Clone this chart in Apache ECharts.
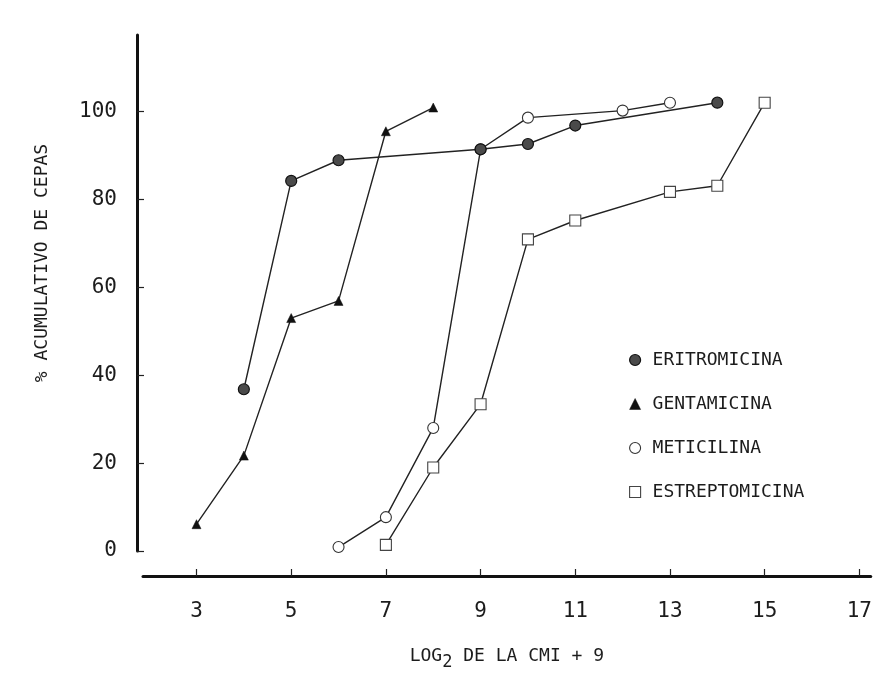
<!DOCTYPE html>
<html>
<head>
<meta charset="utf-8">
<script src="https://cdn.jsdelivr.net/npm/echarts@6/dist/echarts.min.js"></script>
<style>
  html, body { margin: 0; padding: 0; background: #fff; }
  #chart { width: 875px; height: 676px; }
</style>
</head>
<body>
<div id="chart"></div>
<script>
// tick labels
const xTicks = [3, 5, 7, 9, 11, 13, 15, 17];
const yTicks = [0, 20, 40, 60, 80, 100];

// series (x = log2 CMI + 9, y = % acumulativo)
const eritroX = [4, 5, 6, 9, 10, 11, 14];
const eritroY = [36.8, 84.2, 88.9, 91.4, 92.6, 96.8, 102.0];
const gentaX = [3, 4, 5, 6, 7, 8];
const gentaY = [6.1, 21.7, 53.0, 56.9, 95.5, 100.9];
const metiX = [6, 7, 8, 9, 10, 12, 13];
const metiY = [0.9, 7.7, 28.0, 91.4, 98.6, 100.2, 102.0];
const estrepX = [7, 8, 9, 10, 11, 13, 14, 15];
const estrepY = [1.4, 19.0, 33.4, 70.9, 75.2, 81.7, 83.1, 102.0];

const names = ['ERITROMICINA', 'GENTAMICINA', 'METICILINA', 'ESTREPTOMICINA'];

const zip = (xs, ys) => xs.map((x, i) => [x, ys[i]]);

const FONT = '"DejaVu Sans Mono", monospace';
const INK = '#1c1c1c';

const styles = {
  ERITROMICINA: { symbol: 'circle', size: 11, item: { color: '#4a4a4a', borderColor: '#111', borderWidth: 1.2 } },
  GENTAMICINA: { symbol: 'triangle', size: 9, item: { color: '#111', borderColor: '#111', borderWidth: 0.5 } },
  METICILINA: { symbol: 'circle', size: 11, item: { color: '#fff', borderColor: '#333', borderWidth: 1.1 } },
  ESTREPTOMICINA: { symbol: 'rect', size: 11, item: { color: '#fff', borderColor: '#444', borderWidth: 1.1 } },
};

const seriesData = {
  ERITROMICINA: zip(eritroX, eritroY),
  GENTAMICINA: zip(gentaX, gentaY),
  METICILINA: zip(metiX, metiY),
  ESTREPTOMICINA: zip(estrepX, estrepY),
};

const zOrder = { ERITROMICINA: 5, GENTAMICINA: 4, METICILINA: 3, ESTREPTOMICINA: 2 };

const chart = echarts.init(document.getElementById('chart'));

const option = {
  backgroundColor: '#fff',
  animation: false,
  grid: { left: 143, right: 0, top: 35, bottom: 121 },
  legend: {
    orient: 'vertical',
    left: 624,
    top: 346,
    itemGap: 26,
    itemWidth: 11,
    itemHeight: 11,
    textStyle: { fontFamily: FONT, fontSize: 18, color: INK, padding: [0, 0, 0, 7] },
    data: names.map(n => ({
      name: n,
      icon: styles[n].symbol,
      itemStyle: styles[n].item,
    })),
  },
  xAxis: {
    type: 'value',
    min: 1.87,
    max: 17.24,
    offset: 25,
    axisLine: { show: true, onZero: false, lineStyle: { color: '#111', width: 3 } },
    axisTick: { show: true, inside: true, length: 7, customValues: xTicks, lineStyle: { color: '#222', width: 1.2 } },
    axisLabel: { customValues: xTicks, margin: 25, fontFamily: FONT, fontSize: 21, color: INK },
    splitLine: { show: false },
    name: 'LOG{s|2} DE LA CMI + 9',
    nameLocation: 'middle',
    nameGap: 66,
    nameTextStyle: {
      fontFamily: FONT, fontSize: 18, color: INK,
      rich: { s: { fontFamily: FONT, fontSize: 17, color: INK, padding: [12, 0, 0, 0] } },
    },
  },
  yAxis: {
    type: 'value',
    min: 0,
    max: 117.4,
    offset: 6,
    axisLine: { show: true, onZero: false, lineStyle: { color: '#111', width: 3 } },
    axisTick: { show: true, inside: true, length: 7, customValues: yTicks, lineStyle: { color: '#222', width: 1.2 } },
    axisLabel: { customValues: yTicks, margin: 20, fontFamily: FONT, fontSize: 21, color: INK },
    splitLine: { show: false },
  },
  graphic: [{
    type: 'text',
    x: 42,
    y: 263,
    rotation: Math.PI / 2,
    style: {
      text: '% ACUMULATIVO DE CEPAS',
      font: '18px "DejaVu Sans Mono", monospace',
      fill: INK,
      textAlign: 'center',
      textVerticalAlign: 'middle',
    },
  }],
  series: names.map(n => ({
    name: n,
    type: 'line',
    z: zOrder[n],
    data: seriesData[n],
    symbol: styles[n].symbol,
    symbolSize: styles[n].size,
    showAllSymbol: true,
    itemStyle: styles[n].item,
    lineStyle: { color: '#222', width: 1.4 },
    emphasis: { disabled: true },
  })),
};

chart.setOption(option);
</script>
</body>
</html>
